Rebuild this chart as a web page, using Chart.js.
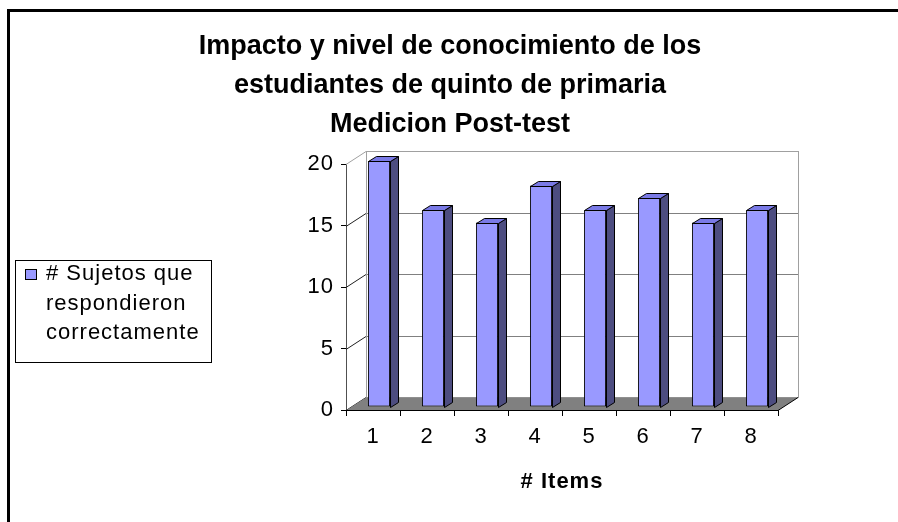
<!DOCTYPE html>
<html>
<head>
<meta charset="utf-8">
<script src="https://cdn.jsdelivr.net/npm/chart.js@4/dist/chart.umd.min.js"></script>
<style>
  html, body { margin: 0; padding: 0; background: #fff; }
  canvas { display: block; }
</style>
</head>
<body>
<canvas id="chart" width="898" height="522"></canvas>
<script>
// data
var items = ['1', '2', '3', '4', '5', '6', '7', '8'];
var correctos = [20, 16, 15, 18, 16, 17, 15, 16];
var titleLines = ['Impacto y nivel de conocimiento de los', 'estudiantes de quinto de primaria', 'Medicion Post-test'];
var legendLines = ['# Sujetos que', 'respondieron', 'correctamente'];
var axisTitle = '# Items';

var FONT = "'Liberation Sans', Arial, sans-serif";
var DEPTH = { x: 20, y: -13 };     // floor / back wall offset
var BAR_SHIFT = { x: 6, y: -3 };   // bars sit a bit inside the box
var BAR_DEPTH = { x: 8, y: -5 };

// 3d box: back wall, floor, side wall grid
var box3d = {
  id: 'box3d',
  beforeDraw: function (chart) {
    // the old excel export draws its axis text slightly spaced out
    chart.ctx.letterSpacing = '1px';
  },
  beforeDatasetsDraw: function (chart) {
    var ctx = chart.ctx, a = chart.chartArea, ys = chart.scales.y;
    var L = a.left, R = a.right, T = a.top, B = a.bottom;
    ctx.save();
    ctx.lineWidth = 1;
    // back wall
    ctx.fillStyle = '#fff';
    ctx.strokeStyle = '#a0a0a0';
    ctx.fillRect(L + DEPTH.x, T + DEPTH.y, R - L, B - T);
    ctx.strokeRect(L + DEPTH.x + 0.5, T + DEPTH.y + 0.5, R - L, B - T);
    // grid on back wall + side wall
    ys.ticks.forEach(function (t) {
      var y = Math.round(ys.getPixelForValue(t.value)) + 0.5;
      if (t.value > 0 && t.value < ys.max) {
        ctx.strokeStyle = '#808080';
        ctx.beginPath();
        ctx.moveTo(L + DEPTH.x, y + DEPTH.y);
        ctx.lineTo(R + DEPTH.x, y + DEPTH.y);
        ctx.stroke();
      }
      ctx.strokeStyle = t.value === ys.max ? '#a0a0a0' : '#202020';
      ctx.beginPath();
      ctx.moveTo(L, y);
      ctx.lineTo(L + DEPTH.x, y + DEPTH.y);
      ctx.stroke();
    });
    // left back edge
    ctx.strokeStyle = '#a0a0a0';
    ctx.beginPath();
    ctx.moveTo(L + DEPTH.x + 0.5, T + DEPTH.y);
    ctx.lineTo(L + DEPTH.x + 0.5, B + DEPTH.y);
    ctx.stroke();
    // floor
    ctx.fillStyle = '#808080';
    ctx.strokeStyle = '#000';
    ctx.beginPath();
    ctx.moveTo(L, B + 0.5);
    ctx.lineTo(L + DEPTH.x, B + DEPTH.y + 0.5);
    ctx.lineTo(R + DEPTH.x, B + DEPTH.y + 0.5);
    ctx.lineTo(R, B + 0.5);
    ctx.closePath();
    ctx.fill();
    ctx.beginPath();
    ctx.moveTo(L, B + 0.5);
    ctx.lineTo(R, B + 0.5);
    ctx.lineTo(R + DEPTH.x, B + DEPTH.y + 0.5);
    ctx.stroke();
    ctx.restore();

    ctx.save();
    ctx.translate(BAR_SHIFT.x, BAR_SHIFT.y);
  },
  afterDatasetsDraw: function (chart) {
    var ctx = chart.ctx;
    chart.getDatasetMeta(0).data.forEach(function (bar) {
      var p = bar.getProps(['x', 'y', 'base', 'width'], true);
      var l = Math.round(p.x - p.width / 2) + 0.5, r = Math.round(p.x + p.width / 2) + 0.5;
      var t = Math.round(p.y) + 0.5, b = Math.round(p.base) + 0.5;
      ctx.lineWidth = 1;
      ctx.strokeStyle = '#000';
      // side
      ctx.fillStyle = '#4d4d80';
      ctx.beginPath();
      ctx.moveTo(r, t);
      ctx.lineTo(r + BAR_DEPTH.x, t + BAR_DEPTH.y);
      ctx.lineTo(r + BAR_DEPTH.x, b + BAR_DEPTH.y);
      ctx.lineTo(r, b);
      ctx.closePath();
      ctx.fill();
      ctx.stroke();
      // top
      ctx.fillStyle = '#7a7ae6';
      ctx.beginPath();
      ctx.moveTo(l, t);
      ctx.lineTo(l + BAR_DEPTH.x, t + BAR_DEPTH.y);
      ctx.lineTo(r + BAR_DEPTH.x, t + BAR_DEPTH.y);
      ctx.lineTo(r, t);
      ctx.closePath();
      ctx.fill();
      ctx.stroke();
    });
    ctx.restore();
  }
};

// title, boxed legend on the left and the frame
var decor = {
  id: 'decor',
  afterDraw: function (chart) {
    var ctx = chart.ctx, ds = chart.data.datasets[0];
    ctx.save();
    ctx.fillStyle = '#000';
    ctx.textAlign = 'center';
    ctx.textBaseline = 'middle';
    ctx.letterSpacing = '0px';
    ctx.font = 'bold 27px ' + FONT;
    titleLines.forEach(function (s, i) {
      ctx.fillText(s, 450, 47 + i * 39);
    });

    ctx.lineWidth = 1;
    ctx.strokeStyle = '#000';
    ctx.strokeRect(15.5, 260.5, 196, 102);
    ctx.fillStyle = ds.backgroundColor;
    ctx.fillRect(25, 269, 12, 11);
    ctx.strokeRect(25.5, 269.5, 11, 10);
    ctx.fillStyle = '#000';
    ctx.font = '22px ' + FONT;
    ctx.letterSpacing = '1px';
    ctx.textAlign = 'left';
    legendLines.forEach(function (s, i) {
      ctx.fillText(s, 46, 274 + i * 29.5);
    });
    // frame
    ctx.lineWidth = 3;
    ctx.beginPath();
    ctx.moveTo(8.5, 522);
    ctx.lineTo(8.5, 10.5);
    ctx.lineTo(898, 10.5);
    ctx.stroke();
    ctx.restore();
  }
};

new Chart(document.getElementById('chart'), {
  type: 'bar',
  data: {
    labels: items,
    datasets: [{
      label: legendLines.join(' '),
      data: correctos,
      backgroundColor: '#9999ff',
      borderColor: '#000',
      borderWidth: 1,
      borderSkipped: false,
      categoryPercentage: 1,
      barPercentage: 0.41
    }]
  },
  options: {
    responsive: false,
    animation: false,
    layout: { padding: { left: 0, right: 120, top: 164, bottom: 0 } },
    plugins: {
      legend: { display: false },
      tooltip: { enabled: false },
      title: { display: false }
    },
    scales: {
      x: {
        grid: { offset: true, drawOnChartArea: false, tickLength: 6, color: '#000' },
        border: { color: '#000' },
        ticks: { color: '#000', font: { family: FONT, size: 22 }, padding: 8 },
        title: {
          display: true,
          text: axisTitle,
          color: '#000',
          font: { family: FONT, size: 22, weight: 'bold' },
          padding: { top: 0, bottom: 27 }
        },
        afterFit: function (s) { s.height = 112; }
      },
      y: {
        min: 0,
        max: 20,
        grid: { drawOnChartArea: false, tickLength: 5, color: '#000' },
        border: { color: '#505050' },
        ticks: { stepSize: 5, color: '#000', font: { family: FONT, size: 22 }, padding: 7 },
        afterFit: function (s) { s.width = 346; }
      }
    }
  },
  plugins: [box3d, decor]
});
</script>
</body>
</html>
